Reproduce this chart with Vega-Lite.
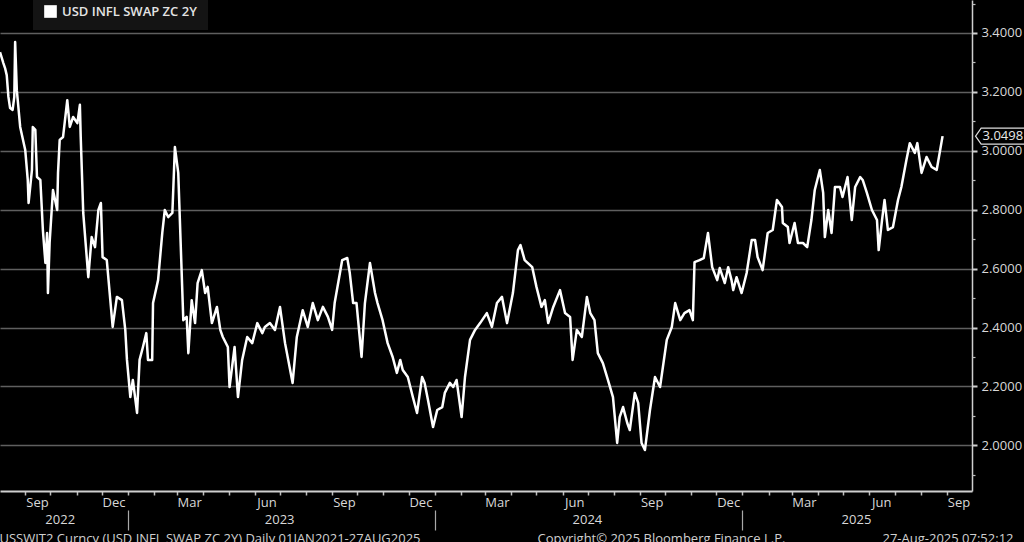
{
  "$schema": "https://vega.github.io/schema/vega-lite/v6.json",
  "width": 972,
  "height": 491,
  "autosize": "none",
  "padding": {"left": 0, "top": 0, "right": 52, "bottom": 51},
  "background": "#000000",
  "config": {
    "view": {"stroke": null},
    "font": "Open Sans",
    "axis": {"labelFont": "Open Sans", "titleFont": "Open Sans", "labelColor": "#d8d8d8", "titleColor": "#d0d0d0", "labelFontSize": 13, "titleFontSize": 13, "titleFontWeight": "normal"},
    "legend": {"labelFont": "Open Sans"}
  },
  "data": {"values": [
    {"date": "2022-08-02", "value": 3.335}, {"date": "2022-08-06", "value": 3.298}, {"date": "2022-08-08", "value": 3.281}, {"date": "2022-08-10", "value": 3.257},
    {"date": "2022-08-12", "value": 3.183}, {"date": "2022-08-14", "value": 3.145}, {"date": "2022-08-17", "value": 3.139}, {"date": "2022-08-19", "value": 3.183},
    {"date": "2022-08-20", "value": 3.369}, {"date": "2022-08-22", "value": 3.206}, {"date": "2022-08-26", "value": 3.081}, {"date": "2022-09-01", "value": 3.003},
    {"date": "2022-09-04", "value": 2.901}, {"date": "2022-09-05", "value": 2.823}, {"date": "2022-09-09", "value": 2.935}, {"date": "2022-09-10", "value": 3.081},
    {"date": "2022-09-13", "value": 3.071}, {"date": "2022-09-15", "value": 2.911}, {"date": "2022-09-19", "value": 2.901}, {"date": "2022-09-22", "value": 2.731},
    {"date": "2022-09-25", "value": 2.619}, {"date": "2022-09-27", "value": 2.721}, {"date": "2022-09-28", "value": 2.517}, {"date": "2022-09-30", "value": 2.687},
    {"date": "2022-10-04", "value": 2.867}, {"date": "2022-10-09", "value": 2.799}, {"date": "2022-10-10", "value": 2.925}, {"date": "2022-10-12", "value": 3.037},
    {"date": "2022-10-16", "value": 3.047}, {"date": "2022-10-21", "value": 3.172}, {"date": "2022-10-24", "value": 3.081}, {"date": "2022-10-28", "value": 3.115},
    {"date": "2022-11-02", "value": 3.094}, {"date": "2022-11-05", "value": 3.156}, {"date": "2022-11-06", "value": 3.047}, {"date": "2022-11-09", "value": 2.789},
    {"date": "2022-11-15", "value": 2.571}, {"date": "2022-11-19", "value": 2.707}, {"date": "2022-11-23", "value": 2.673}, {"date": "2022-11-27", "value": 2.799},
    {"date": "2022-11-30", "value": 2.823}, {"date": "2022-12-02", "value": 2.639}, {"date": "2022-12-07", "value": 2.629}, {"date": "2022-12-14", "value": 2.402},
    {"date": "2022-12-19", "value": 2.504}, {"date": "2022-12-25", "value": 2.493}, {"date": "2022-12-29", "value": 2.392}, {"date": "2022-12-31", "value": 2.290},
    {"date": "2023-01-04", "value": 2.164}, {"date": "2023-01-07", "value": 2.222}, {"date": "2023-01-12", "value": 2.110}, {"date": "2023-01-15", "value": 2.290},
    {"date": "2023-01-19", "value": 2.334}, {"date": "2023-01-23", "value": 2.381}, {"date": "2023-01-25", "value": 2.290}, {"date": "2023-01-30", "value": 2.290},
    {"date": "2023-01-31", "value": 2.483}, {"date": "2023-02-06", "value": 2.561}, {"date": "2023-02-11", "value": 2.721}, {"date": "2023-02-14", "value": 2.799},
    {"date": "2023-02-18", "value": 2.775}, {"date": "2023-02-23", "value": 2.789}, {"date": "2023-02-26", "value": 3.013}, {"date": "2023-03-02", "value": 2.925},
    {"date": "2023-03-08", "value": 2.425}, {"date": "2023-03-12", "value": 2.436}, {"date": "2023-03-14", "value": 2.313}, {"date": "2023-03-18", "value": 2.493},
    {"date": "2023-03-22", "value": 2.415}, {"date": "2023-03-25", "value": 2.551}, {"date": "2023-03-30", "value": 2.595}, {"date": "2023-04-03", "value": 2.517},
    {"date": "2023-04-06", "value": 2.538}, {"date": "2023-04-11", "value": 2.415}, {"date": "2023-04-17", "value": 2.470}, {"date": "2023-04-21", "value": 2.392},
    {"date": "2023-04-24", "value": 2.368}, {"date": "2023-04-30", "value": 2.334}, {"date": "2023-05-02", "value": 2.198}, {"date": "2023-05-08", "value": 2.334},
    {"date": "2023-05-12", "value": 2.164}, {"date": "2023-05-17", "value": 2.290}, {"date": "2023-05-23", "value": 2.368}, {"date": "2023-05-29", "value": 2.347},
    {"date": "2023-06-04", "value": 2.415}, {"date": "2023-06-10", "value": 2.381}, {"date": "2023-06-13", "value": 2.402}, {"date": "2023-06-19", "value": 2.415},
    {"date": "2023-06-25", "value": 2.392}, {"date": "2023-07-01", "value": 2.470}, {"date": "2023-07-07", "value": 2.347}, {"date": "2023-07-16", "value": 2.212},
    {"date": "2023-07-21", "value": 2.368}, {"date": "2023-07-28", "value": 2.459}, {"date": "2023-08-03", "value": 2.402}, {"date": "2023-08-09", "value": 2.483},
    {"date": "2023-08-15", "value": 2.425}, {"date": "2023-08-21", "value": 2.470}, {"date": "2023-08-27", "value": 2.436}, {"date": "2023-09-01", "value": 2.392},
    {"date": "2023-09-04", "value": 2.483}, {"date": "2023-09-13", "value": 2.629}, {"date": "2023-09-19", "value": 2.636}, {"date": "2023-09-22", "value": 2.585},
    {"date": "2023-09-26", "value": 2.483}, {"date": "2023-09-30", "value": 2.483}, {"date": "2023-10-06", "value": 2.300}, {"date": "2023-10-10", "value": 2.483},
    {"date": "2023-10-16", "value": 2.619}, {"date": "2023-10-22", "value": 2.517}, {"date": "2023-10-25", "value": 2.483}, {"date": "2023-10-31", "value": 2.425},
    {"date": "2023-11-06", "value": 2.347}, {"date": "2023-11-12", "value": 2.300}, {"date": "2023-11-17", "value": 2.246}, {"date": "2023-11-21", "value": 2.290},
    {"date": "2023-11-24", "value": 2.256}, {"date": "2023-11-30", "value": 2.232}, {"date": "2023-12-06", "value": 2.164}, {"date": "2023-12-11", "value": 2.110},
    {"date": "2023-12-17", "value": 2.232}, {"date": "2023-12-20", "value": 2.212}, {"date": "2023-12-24", "value": 2.154}, {"date": "2023-12-30", "value": 2.062},
    {"date": "2024-01-04", "value": 2.120}, {"date": "2024-01-10", "value": 2.130}, {"date": "2024-01-13", "value": 2.178}, {"date": "2024-01-19", "value": 2.212},
    {"date": "2024-01-23", "value": 2.198}, {"date": "2024-01-27", "value": 2.222}, {"date": "2024-02-02", "value": 2.096}, {"date": "2024-02-06", "value": 2.232},
    {"date": "2024-02-12", "value": 2.358}, {"date": "2024-02-18", "value": 2.392}, {"date": "2024-02-24", "value": 2.415}, {"date": "2024-03-03", "value": 2.449},
    {"date": "2024-03-09", "value": 2.402}, {"date": "2024-03-15", "value": 2.483}, {"date": "2024-03-21", "value": 2.504}, {"date": "2024-03-27", "value": 2.415},
    {"date": "2024-04-03", "value": 2.517}, {"date": "2024-04-09", "value": 2.663}, {"date": "2024-04-12", "value": 2.680}, {"date": "2024-04-17", "value": 2.629},
    {"date": "2024-04-26", "value": 2.605}, {"date": "2024-05-01", "value": 2.538}, {"date": "2024-05-07", "value": 2.470}, {"date": "2024-05-11", "value": 2.493},
    {"date": "2024-05-15", "value": 2.415}, {"date": "2024-05-21", "value": 2.470}, {"date": "2024-05-29", "value": 2.527}, {"date": "2024-06-04", "value": 2.449},
    {"date": "2024-06-10", "value": 2.436}, {"date": "2024-06-13", "value": 2.290}, {"date": "2024-06-18", "value": 2.392}, {"date": "2024-06-24", "value": 2.368},
    {"date": "2024-06-30", "value": 2.504}, {"date": "2024-07-04", "value": 2.449}, {"date": "2024-07-09", "value": 2.425}, {"date": "2024-07-13", "value": 2.313},
    {"date": "2024-07-19", "value": 2.279}, {"date": "2024-07-25", "value": 2.222}, {"date": "2024-07-31", "value": 2.164}, {"date": "2024-08-05", "value": 2.008},
    {"date": "2024-08-08", "value": 2.096}, {"date": "2024-08-12", "value": 2.130}, {"date": "2024-08-17", "value": 2.076}, {"date": "2024-08-20", "value": 2.052},
    {"date": "2024-08-26", "value": 2.178}, {"date": "2024-08-30", "value": 2.144}, {"date": "2024-09-03", "value": 2.008}, {"date": "2024-09-07", "value": 1.984},
    {"date": "2024-09-13", "value": 2.120}, {"date": "2024-09-19", "value": 2.232}, {"date": "2024-09-25", "value": 2.198}, {"date": "2024-10-03", "value": 2.358},
    {"date": "2024-10-09", "value": 2.402}, {"date": "2024-10-13", "value": 2.483}, {"date": "2024-10-19", "value": 2.425}, {"date": "2024-10-24", "value": 2.449},
    {"date": "2024-10-30", "value": 2.459}, {"date": "2024-11-03", "value": 2.425}, {"date": "2024-11-05", "value": 2.622}, {"date": "2024-11-11", "value": 2.629},
    {"date": "2024-11-16", "value": 2.636}, {"date": "2024-11-21", "value": 2.721}, {"date": "2024-11-26", "value": 2.605}, {"date": "2024-12-02", "value": 2.561},
    {"date": "2024-12-05", "value": 2.602}, {"date": "2024-12-11", "value": 2.551}, {"date": "2024-12-15", "value": 2.605}, {"date": "2024-12-19", "value": 2.561},
    {"date": "2024-12-21", "value": 2.527}, {"date": "2024-12-25", "value": 2.571}, {"date": "2024-12-31", "value": 2.517}, {"date": "2025-01-06", "value": 2.585},
    {"date": "2025-01-12", "value": 2.697}, {"date": "2025-01-16", "value": 2.697}, {"date": "2025-01-19", "value": 2.639}, {"date": "2025-01-25", "value": 2.595},
    {"date": "2025-01-31", "value": 2.721}, {"date": "2025-02-06", "value": 2.731}, {"date": "2025-02-11", "value": 2.833}, {"date": "2025-02-17", "value": 2.809},
    {"date": "2025-02-18", "value": 2.755}, {"date": "2025-02-24", "value": 2.741}, {"date": "2025-02-26", "value": 2.687}, {"date": "2025-03-04", "value": 2.755},
    {"date": "2025-03-08", "value": 2.687}, {"date": "2025-03-14", "value": 2.687}, {"date": "2025-03-19", "value": 2.673}, {"date": "2025-03-24", "value": 2.765},
    {"date": "2025-03-28", "value": 2.867}, {"date": "2025-04-03", "value": 2.935}, {"date": "2025-04-07", "value": 2.857}, {"date": "2025-04-09", "value": 2.707},
    {"date": "2025-04-13", "value": 2.799}, {"date": "2025-04-17", "value": 2.721}, {"date": "2025-04-21", "value": 2.877}, {"date": "2025-04-27", "value": 2.877},
    {"date": "2025-04-30", "value": 2.843}, {"date": "2025-05-06", "value": 2.911}, {"date": "2025-05-11", "value": 2.765}, {"date": "2025-05-15", "value": 2.877},
    {"date": "2025-05-21", "value": 2.911}, {"date": "2025-05-24", "value": 2.901}, {"date": "2025-05-29", "value": 2.857}, {"date": "2025-06-04", "value": 2.799},
    {"date": "2025-06-10", "value": 2.765}, {"date": "2025-06-12", "value": 2.663}, {"date": "2025-06-16", "value": 2.765}, {"date": "2025-06-19", "value": 2.833},
    {"date": "2025-06-23", "value": 2.731}, {"date": "2025-06-29", "value": 2.741}, {"date": "2025-07-05", "value": 2.833}, {"date": "2025-07-09", "value": 2.877},
    {"date": "2025-07-15", "value": 2.969}, {"date": "2025-07-19", "value": 3.026}, {"date": "2025-07-25", "value": 2.993}, {"date": "2025-07-28", "value": 3.026},
    {"date": "2025-08-02", "value": 2.925}, {"date": "2025-08-08", "value": 2.979}, {"date": "2025-08-14", "value": 2.945}, {"date": "2025-08-20", "value": 2.935},
    {"date": "2025-08-27", "value": 3.0498}
  ]},
  "layer": [
    {
      "mark": {"type": "line", "color": "#ffffff", "strokeWidth": 2.5, "strokeJoin": "round"},
      "encoding": {
        "x": {"field": "date", "type": "temporal",
          "scale": {"type": "utc", "domain": [{"year": 2022, "month": 8, "date": 2, "utc": true}, {"year": 2025, "month": 10, "date": 1, "utc": true}]},
          "axis": {"orient": "bottom", "grid": false, "labels": false, "ticks": true, "tickSize": 4, "tickColor": "#bdbdbd", "tickWidth": 1.5,
            "domain": true, "domainColor": "#cfcfcf", "domainWidth": 2,
            "values": [
              {"year": 2022, "month": 9, "date": 1, "utc": true}, {"year": 2022, "month": 10, "date": 1, "utc": true}, {"year": 2022, "month": 11, "date": 1, "utc": true}, {"year": 2022, "month": 12, "date": 1, "utc": true},
              {"year": 2023, "month": 1, "date": 1, "utc": true}, {"year": 2023, "month": 2, "date": 1, "utc": true}, {"year": 2023, "month": 3, "date": 1, "utc": true}, {"year": 2023, "month": 4, "date": 1, "utc": true},
              {"year": 2023, "month": 5, "date": 1, "utc": true}, {"year": 2023, "month": 6, "date": 1, "utc": true}, {"year": 2023, "month": 7, "date": 1, "utc": true}, {"year": 2023, "month": 8, "date": 1, "utc": true},
              {"year": 2023, "month": 9, "date": 1, "utc": true}, {"year": 2023, "month": 10, "date": 1, "utc": true}, {"year": 2023, "month": 11, "date": 1, "utc": true}, {"year": 2023, "month": 12, "date": 1, "utc": true},
              {"year": 2024, "month": 1, "date": 1, "utc": true}, {"year": 2024, "month": 2, "date": 1, "utc": true}, {"year": 2024, "month": 3, "date": 1, "utc": true}, {"year": 2024, "month": 4, "date": 1, "utc": true},
              {"year": 2024, "month": 5, "date": 1, "utc": true}, {"year": 2024, "month": 6, "date": 1, "utc": true}, {"year": 2024, "month": 7, "date": 1, "utc": true}, {"year": 2024, "month": 8, "date": 1, "utc": true},
              {"year": 2024, "month": 9, "date": 1, "utc": true}, {"year": 2024, "month": 10, "date": 1, "utc": true}, {"year": 2024, "month": 11, "date": 1, "utc": true}, {"year": 2024, "month": 12, "date": 1, "utc": true},
              {"year": 2025, "month": 1, "date": 1, "utc": true}, {"year": 2025, "month": 2, "date": 1, "utc": true}, {"year": 2025, "month": 3, "date": 1, "utc": true}, {"year": 2025, "month": 4, "date": 1, "utc": true},
              {"year": 2025, "month": 5, "date": 1, "utc": true}, {"year": 2025, "month": 6, "date": 1, "utc": true}, {"year": 2025, "month": 7, "date": 1, "utc": true}, {"year": 2025, "month": 8, "date": 1, "utc": true},
              {"year": 2025, "month": 9, "date": 1, "utc": true}
            ],
            "title": "USSWIT2 Curncy (USD INFL SWAP ZC 2Y)  Daily 01JAN2021-27AUG2025", "titleX": -1, "titleY": 41, "titleAlign": "left", "titleBaseline": "top", "titleAngle": 0}
        },
        "y": {"field": "value", "type": "quantitative",
          "scale": {"domain": [1.845, 3.512], "zero": false, "nice": false},
          "axis": {"orient": "right", "values": [2.0, 2.2, 2.4, 2.6, 2.8, 3.0, 3.2, 3.4], "format": ".4f",
            "grid": true, "gridColor": "#5f5f5f", "gridWidth": 1.4,
            "domain": true, "domainColor": "#cfcfcf", "domainWidth": 1.5,
            "ticks": true, "tickSize": 5, "tickWidth": 2, "tickColor": "#cfcfcf",
            "labelPadding": 4, "labelOverlap": false, "title": null}
        },
        "color": {"datum": "USD INFL SWAP ZC 2Y", "scale": {"range": ["#ffffff"]},
          "legend": {"title": null, "orient": "none", "legendX": 33, "legendY": -6, "padding": 11, "fillColor": "#141414",
            "symbolType": "square", "symbolSize": 160, "symbolFillColor": "#ffffff", "symbolStrokeColor": "#ffffff", "symbolStrokeWidth": 0,
            "labelColor": "#e4e4e4", "labelFontSize": 13, "labelFontWeight": 600, "labelOffset": 5}
        }
      }
    },
    {
      "mark": {"type": "line", "opacity": 0},
      "encoding": {
        "x": {"field": "date", "type": "temporal",
          "axis": {"orient": "bottom", "grid": false, "domain": false, "ticks": false, "tickSize": 0, "labelPadding": 5,
            "labelExpr": "utcFormat(datum.value, '%b')", "labelOverlap": false, "labelFlush": false, "labelBound": false,
            "values": [
              {"year": 2022, "month": 9, "date": 15, "utc": true}, {"year": 2022, "month": 12, "date": 15, "utc": true},
              {"year": 2023, "month": 3, "date": 15, "utc": true}, {"year": 2023, "month": 6, "date": 15, "utc": true}, {"year": 2023, "month": 9, "date": 15, "utc": true}, {"year": 2023, "month": 12, "date": 15, "utc": true},
              {"year": 2024, "month": 3, "date": 15, "utc": true}, {"year": 2024, "month": 6, "date": 15, "utc": true}, {"year": 2024, "month": 9, "date": 15, "utc": true}, {"year": 2024, "month": 12, "date": 15, "utc": true},
              {"year": 2025, "month": 3, "date": 15, "utc": true}, {"year": 2025, "month": 6, "date": 15, "utc": true}, {"year": 2025, "month": 9, "date": 15, "utc": true}
            ],
            "title": "Copyright© 2025 Bloomberg Finance L.P.", "titleX": 537, "titleY": 41, "titleAlign": "left", "titleBaseline": "top", "titleAngle": 0}
        },
        "y": {"field": "value", "type": "quantitative",
          "axis": {"orient": "right", "labels": false, "grid": false, "domain": false, "ticks": true, "tickSize": 3, "tickWidth": 1.2, "tickColor": "#bdbdbd", "title": null,
            "values": [1.9, 2.1, 2.3, 2.5, 2.7, 2.9, 3.1, 3.3, 3.5]}
        }
      }
    },
    {
      "mark": {"type": "line", "opacity": 0},
      "encoding": {
        "x": {"field": "date", "type": "temporal",
          "axis": {"orient": "bottom", "grid": false, "domain": false, "ticks": false, "tickSize": 0, "labelPadding": 22,
            "labelExpr": "utcFormat(datum.value, '%Y')", "labelOverlap": false, "labelFlush": false, "labelBound": false,
            "values": [
              {"year": 2022, "month": 10, "date": 12, "utc": true}, {"year": 2023, "month": 6, "date": 30, "utc": true},
              {"year": 2024, "month": 6, "date": 30, "utc": true}, {"year": 2025, "month": 5, "date": 16, "utc": true}
            ],
            "title": "27-Aug-2025 07:52:12", "titleX": 882, "titleY": 41, "titleAlign": "left", "titleBaseline": "top", "titleAngle": 0}
        },
        "y": {"field": "value", "type": "quantitative", "axis": null}
      }
    },
    {
      "mark": {"type": "line", "opacity": 0},
      "encoding": {
        "x": {"field": "date", "type": "temporal",
          "axis": {"orient": "bottom", "offset": 19, "grid": false, "domain": false, "labels": false, "ticks": true, "tickSize": 20, "tickWidth": 1.2, "tickColor": "#a8a8a8", "title": null,
            "values": [{"year": 2023, "month": 1, "date": 1, "utc": true}, {"year": 2024, "month": 1, "date": 1, "utc": true}, {"year": 2025, "month": 1, "date": 1, "utc": true}]}
        },
        "y": {"field": "value", "type": "quantitative", "axis": null}
      }
    },
    {
      "data": {"values": [{"date": "2025-08-27", "value": 3.0498, "label": "3.0498"}]},
      "mark": {"type": "point", "shape": "M-1,0L-0.8,-0.2857L1,-0.2857L1,0.2857L-0.8,0.2857Z", "size": 3136, "filled": true, "fill": "#000000", "stroke": "#dddddd", "strokeWidth": 1.2, "opacity": 1, "xOffset": 61},
      "encoding": {
        "x": {"field": "date", "type": "temporal", "axis": null},
        "y": {"field": "value", "type": "quantitative", "axis": null}
      }
    },
    {
      "data": {"values": [{"date": "2025-08-27", "value": 3.0498, "label": "3.0498"}]},
      "mark": {"type": "text", "align": "left", "baseline": "middle", "dx": 40, "fontSize": 13, "color": "#e8e8e8", "font": "Open Sans"},
      "encoding": {
        "x": {"field": "date", "type": "temporal", "axis": null},
        "y": {"field": "value", "type": "quantitative", "axis": null},
        "text": {"field": "label"}
      }
    }
  ],
  "resolve": {"axis": {"x": "independent", "y": "independent"}}
}
